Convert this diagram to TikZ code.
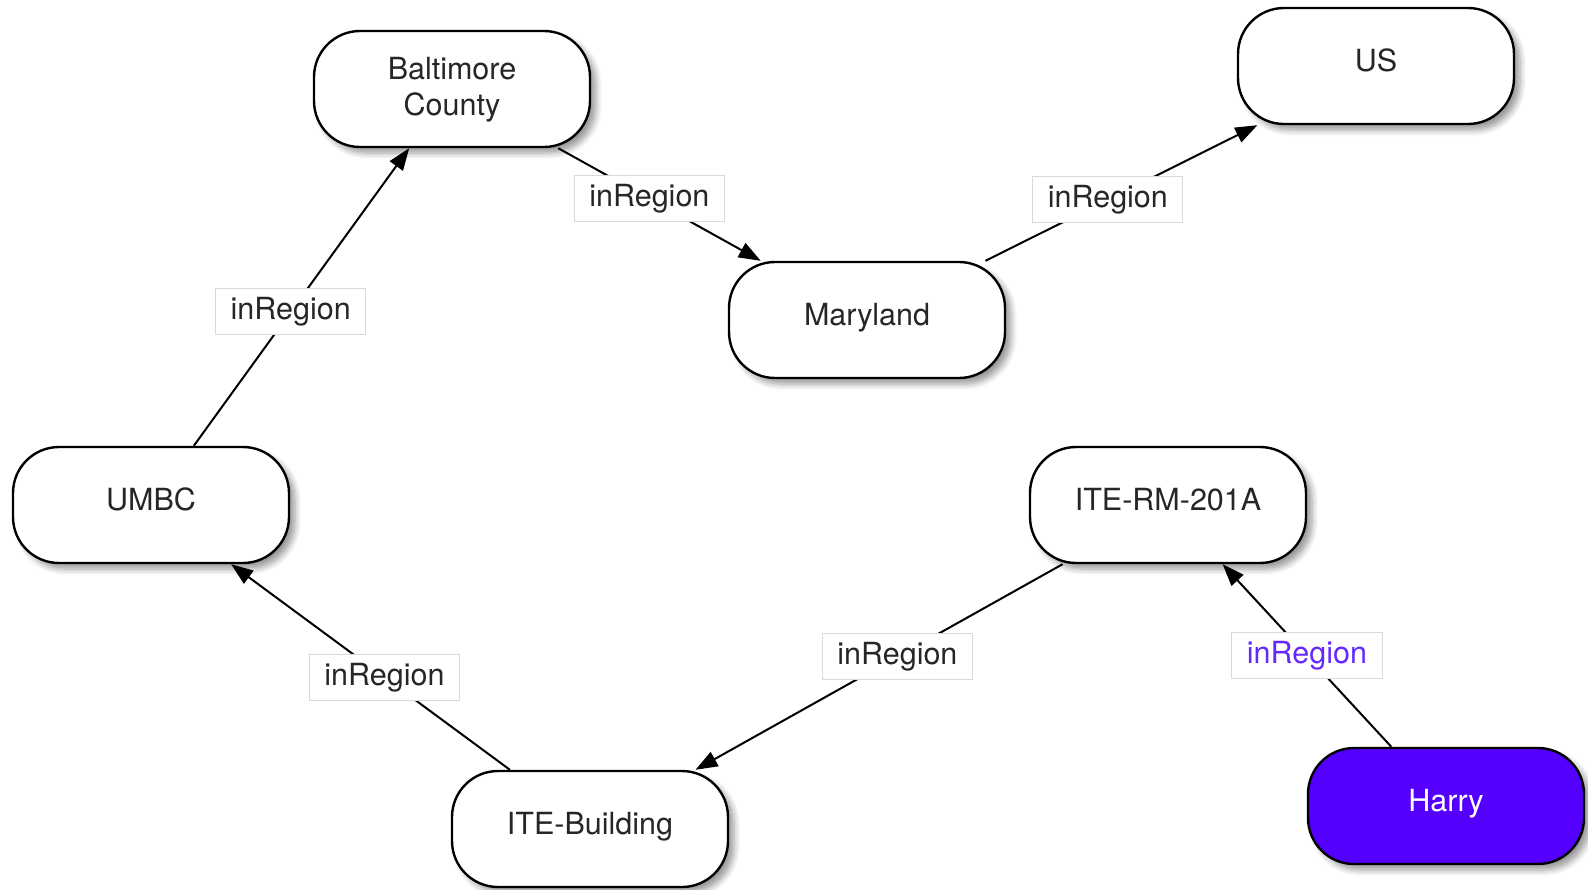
\documentclass[tikz,border=0pt]{standalone}
\usepackage{fontspec}
\setmainfont{TeX Gyre Heros}
\usetikzlibrary{arrows.meta,shadows.blur}
\definecolor{harryblue}{RGB}{85,0,255}
\definecolor{tagblue}{RGB}{100,40,255}

\begin{document}
\begin{tikzpicture}[x=0.5pt,y=-0.5pt,line width=1pt,
    >={Triangle[length=11pt,width=8pt]},
    place/.style={rectangle,rounded corners=23pt,draw,
      line width=1.2pt,fill=white,minimum width=138pt,minimum height=58pt,
      font=\fontsize{15.25}{18}\selectfont,text=black!85,align=center,
      text depth=0.55em,
      blur shadow={shadow xshift=3pt,shadow yshift=-3pt,
        shadow blur radius=3pt,shadow blur steps=6,shadow opacity=40}},
    tag/.style={fill=white,draw=black!15,line width=0.5pt,minimum height=23pt,
      inner xsep=7.5pt,font=\fontsize{15.25}{18}\selectfont,text=black!85,
      rounded corners=0pt,pos=0.45}]
    \useasboundingbox (0,0) rectangle (1588,889);
    \node[place,text depth=0.25em] (balt) at (452,89) {Baltimore\\County};
    \node[place] (us) at (1376,66) {US};
    \node[place] (md) at (867,320) {Maryland};
    \node[place] (umbc) at (151,505) {UMBC};
    \node[place] (rm) at (1168,505) {ITE-RM-201A};
    \node[place] (bldg) at (590,829) {ITE-Building};
    \node[place,fill=harryblue,text=white] (harry) at (1446,806) {Harry};
    \path[->]
    (umbc) edge node[tag] {inRegion} (balt)
    (balt) edge node[tag] {inRegion} (md)
    (md)   edge node[tag] {inRegion} (us)
    (bldg) edge node[tag] {inRegion} (umbc)
    (rm)   edge node[tag] {inRegion} (bldg)
    (harry) edge node[tag,pos=0.5,text=tagblue] {inRegion} (rm);
\end{tikzpicture}
\end{document}
